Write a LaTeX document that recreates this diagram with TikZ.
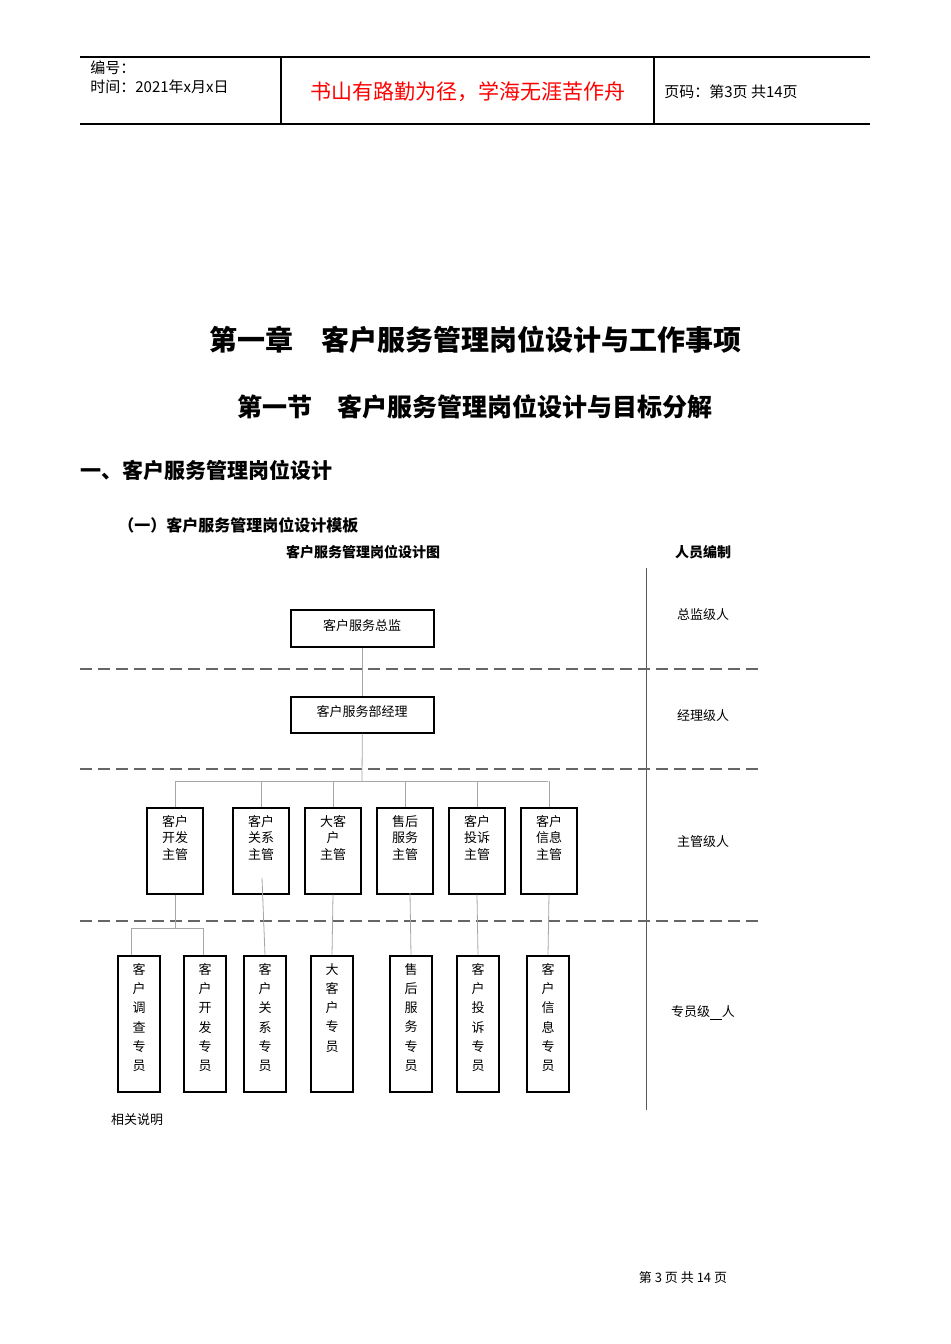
\documentclass[tikz,border=0pt]{standalone}
\usepackage{fontspec}
\setmainfont{Noto Sans CJK SC}
\newfontfamily\cjkb{Noto Sans CJK SC}[BoldFont={* Bold}]
\begin{document}
\begin{tikzpicture}[x=0.5pt,y=-0.5pt,
  box/.style={draw=black,line width=0.8pt,inner sep=0pt},
  conn/.style={draw=gray!70,line width=0.4pt},
  dash/.style={}]
\tikzset{dline/.style={draw=gray!80!black,line width=0.6pt,dash pattern=on 6pt off 3pt},
  lbl/.style={font=\fontsize{6.5}{8}\selectfont,inner sep=0pt}}
\useasboundingbox (0,0) rectangle (950,1344);
% header
\draw[line width=0.6pt] (80,57) -- (870,57) (80,124) -- (870,124) (281,57) -- (281,124) (654,57) -- (654,124);
\node[anchor=west,font=\fontsize{7.5}{9}\selectfont,inner sep=0pt] (h1) at (90,68) {编号：};
\node[anchor=west,font=\fontsize{7.5}{9}\selectfont,inner sep=0pt] (h2) at (90,87) {时间：2021年x月x日};
\node[text=red,font=\fontsize{10.5}{12}\selectfont,inner sep=0pt] (h3) at (468,92) {书山有路勤为径，学海无涯苦作舟};
\node[anchor=west,font=\fontsize{7.5}{9}\selectfont,inner sep=0pt] (h4) at (664,92) {页码：第3页\ 共14页};
% titles
\node[font=\bfseries\fontsize{14}{16}\selectfont] (t1) at (475,340) {第一章\quad 客户服务管理岗位设计与工作事项};
\node[font=\bfseries\fontsize{12.5}{14}\selectfont] (t2) at (475,407) {第一节\quad 客户服务管理岗位设计与目标分解};
\node[anchor=west,inner sep=0pt,font=\bfseries\fontsize{10.5}{12}\selectfont] (t3) at (80,470) {一、客户服务管理岗位设计};
\node[anchor=west,inner sep=0pt,font=\bfseries\fontsize{8}{10}\selectfont] (t4) at (118,525) {（一）客户服务管理岗位设计模板};
\node[font=\bfseries\fontsize{7}{9}\selectfont] (t5) at (363,552) {客户服务管理岗位设计图};
\node[font=\bfseries\fontsize{7}{9}\selectfont] (t6) at (703,552) {人员编制};
% grid
\draw[line width=0.5pt,gray!70!black] (646,568) -- (646,1110);
\foreach \y in {669,769,921} \draw[dline] (80,\y) -- (760,\y);
% top boxes
\node[box,minimum width=71.5pt,minimum height=18.5pt,anchor=north west,lbl] (zj) at (290,609) {};
\node[lbl] at (362,626) {客户服务总监};
\node[box,minimum width=71.5pt,minimum height=18pt,anchor=north west] (jl) at (290,696) {};
\node[lbl] at (362,712) {客户服务部经理};
\draw[conn] (zj.south) -- (jl.north);
\coordinate (bar) at (362,781);
\draw[conn] (jl.south) -- (bar);
\draw[conn] (175,781) -- (548,781);
% supervisors
\foreach \n/\x/\t in {s1/175/{客户\\开发\\主管},s2/261/{客户\\关系\\主管},s3/333/{大客\\户\\主管},s4/405/{售后\\服务\\主管},s5/477/{客户\\投诉\\主管},s6/549/{客户\\信息\\主管}}{
  \node[box,minimum width=28pt,minimum height=43pt,anchor=north] (\n) at (\x,807) {};
  \node[lbl,align=center,anchor=north,font=\fontsize{6.5}{8.2}\selectfont] at (\x,815) {\t};
  \draw[conn] (\x,781) -- (\n.north);
}
% specialists
\foreach \n/\x/\t in {p1/139/{客\\户\\调\\查\\专\\员},p2/205/{客\\户\\开\\发\\专\\员},p3/265/{客\\户\\关\\系\\专\\员},p4/332/{大\\客\\户\\专\\员},p5/411/{售\\后\\服\\务\\专\\员},p6/478/{客\\户\\投\\诉\\专\\员},p7/548/{客\\户\\信\\息\\专\\员}}{
  \node[box,minimum width=21pt,minimum height=68pt,anchor=north] (\n) at (\x,955) {};
  \node[lbl,align=center,anchor=north,font=\fontsize{6.5}{9.6}\selectfont] at (\x,963) {\t};
}
\coordinate (j1) at (175,928);
\draw[conn] (s1.south) -- (j1);
\draw[conn] (131,955) -- (131,928) -- (203,928) -- (203,955);
\draw[conn] (262,878) -- (p3.north);
\draw[conn] (s3.south) -- (p4.north);
\draw[conn] (410,893) -- (p5.north);
\draw[conn] (s5.south) -- (p6.north);
\draw[conn] (s6.south) -- (p7.north);
% right labels
\node[lbl] (r1) at (703,615) {总监级人};
\node[lbl] (r2) at (703,716) {经理级人};
\node[lbl] (r3) at (703,842) {主管级人};
\node[lbl] (r4) at (703,1013) {专员级\underline{\ \ \ \ }人};
\node[lbl] (note) at (137,1120) {相关说明};
\node[lbl] (foot) at (683,1278) {第\ 3\ 页\ 共\ 14\ 页};
\end{tikzpicture}
\end{document}
